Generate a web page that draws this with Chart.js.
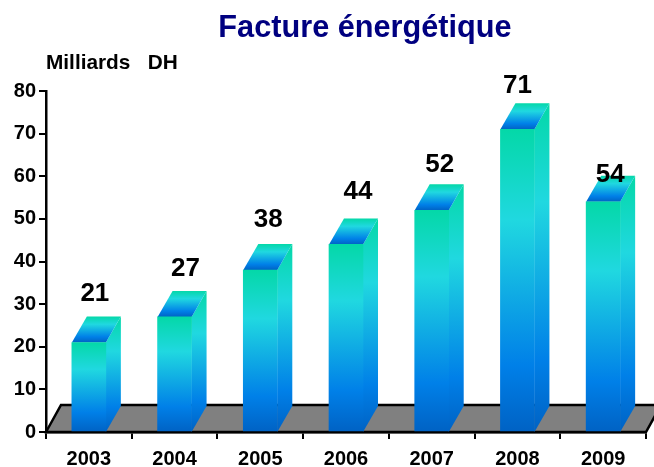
<!DOCTYPE html>
<html>
<head>
<meta charset="utf-8">
<title>Facture énergétique</title>
<script src="https://cdn.jsdelivr.net/npm/chart.js@4"></script>
<style>
html, body { margin: 0; padding: 0; background: #fff; }
#wrap { width: 654px; height: 467px; }
</style>
</head>
<body>
<div id="wrap"><canvas id="myChart" width="654" height="467"></canvas></div>
<script>
const title_text = 'Facture énergétique';
const unit_text = 'Milliards   DH';
const years = ['2003', '2004', '2005', '2006', '2007', '2008', '2009'];
const bills = [21, 27, 38, 44, 52, 71, 54];
const y_ticks = [0, 10, 20, 30, 40, 50, 60, 70, 80];

// labels were placed by hand in the original, offset from the top of each bar
const label_dx = [6, 11, 8, 12, 8, 0, 7];
const label_dy = [-49, -48, -50, -53, -46, -44, -27];

const DEPTH_X = 15;
const DEPTH_Y = 26;
const FLOOR_DEPTH_Y = 27;
const FONT = '"Liberation Sans", Arial, sans-serif';

function bar_gradient(ctx, top, bottom) {
    var g = ctx.createLinearGradient(0, top, 0, bottom);
    g.addColorStop(0, '#04d8a8');
    g.addColorStop(0.3, '#20d8e0');
    g.addColorStop(0.78, '#0080e8');
    g.addColorStop(1, '#0062c4');
    return g;
}

function poly(ctx, pts) {
    ctx.beginPath();
    ctx.moveTo(pts[0][0], pts[0][1]);
    for (var i = 1; i < pts.length; i++) ctx.lineTo(pts[i][0], pts[i][1]);
    ctx.closePath();
}

const box3d = {
    id: 'box3d',
    beforeDatasetsDraw: function (chart) {
        var ctx = chart.ctx, a = chart.chartArea;
        var base = chart.scales.y.getPixelForValue(0);
        ctx.save();
        // floor
        poly(ctx, [[a.left, base], [a.left + DEPTH_X, base - FLOOR_DEPTH_Y], [a.right + DEPTH_X, base - FLOOR_DEPTH_Y], [a.right, base]]);
        ctx.fillStyle = '#808080';
        ctx.fill();
        ctx.strokeStyle = '#000';
        ctx.lineWidth = 2.5;
        ctx.stroke();
        // side and top faces, the front comes from the bar itself
        chart.getDatasetMeta(0).data.forEach(function (bar) {
            var l = bar.x - bar.width / 2, r = bar.x + bar.width / 2, t = bar.y;
            poly(ctx, [[r, t], [r + DEPTH_X, t - DEPTH_Y], [r + DEPTH_X, base - DEPTH_Y], [r, base]]);
            ctx.fillStyle = bar_gradient(ctx, t - DEPTH_Y, base);
            ctx.fill();
            poly(ctx, [[l, t], [l + DEPTH_X, t - DEPTH_Y], [r + DEPTH_X, t - DEPTH_Y], [r, t]]);
            ctx.fillStyle = bar_gradient(ctx, t - DEPTH_Y, t);
            ctx.fill();
        });
        ctx.restore();
    },
    afterDatasetsDraw: function (chart) {
        var ctx = chart.ctx;
        ctx.save();
        ctx.fillStyle = '#000';
        ctx.textAlign = 'center';
        ctx.textBaseline = 'middle';
        ctx.font = 'bold 26px ' + FONT;
        chart.getDatasetMeta(0).data.forEach(function (bar, i) {
            ctx.fillText(bills[i], bar.x + label_dx[i], bar.y + label_dy[i]);
        });
        ctx.font = 'bold 30.7px ' + FONT;
        ctx.fillStyle = '#000080';
        ctx.fillText(title_text, 365, 29);
        ctx.font = 'bold 20.8px ' + FONT;
        ctx.fillStyle = '#000';
        ctx.textAlign = 'left';
        ctx.fillText(unit_text, 46, 63);
        ctx.restore();
    }
};

new Chart(document.getElementById('myChart'), {
    type: 'bar',
    data: {
        labels: years,
        datasets: [{
            data: bills,
            barThickness: 34,
            backgroundColor: function (c) {
                var chart = c.chart;
                if (!chart.chartArea || c.parsed === undefined) return '#20d8e0';
                var y = chart.scales.y;
                return bar_gradient(chart.ctx, y.getPixelForValue(c.parsed.y), y.getPixelForValue(0));
            }
        }]
    },
    options: {
        responsive: false,
        animation: false,
        layout: { padding: { top: 91, right: 8, left: 0, bottom: 0 } },
        plugins: { legend: { display: false }, tooltip: { enabled: false } },
        scales: {
            x: {
                z: 1,
                offset: true,
                afterFit: function (s) { s.height = 35; },
                border: { color: '#000', width: 2.5 },
                grid: { offset: true, drawOnChartArea: false, color: '#000', lineWidth: 2, tickLength: 7 },
                ticks: { color: '#000', font: { family: FONT, weight: 'bold', size: 20 }, padding: 8, maxRotation: 0 }
            },
            y: {
                z: 1,
                min: 0,
                max: 80,
                afterFit: function (s) { s.width = 46; },
                afterBuildTicks: function (s) { s.ticks = y_ticks.map(function (v) { return { value: v }; }); },
                border: { color: '#000', width: 2.5 },
                grid: { drawOnChartArea: false, color: '#000', lineWidth: 2, tickLength: 7 },
                ticks: { color: '#000', font: { family: FONT, weight: 'bold', size: 20 }, padding: 3 }
            }
        }
    },
    plugins: [box3d]
});
</script>
</body>
</html>
